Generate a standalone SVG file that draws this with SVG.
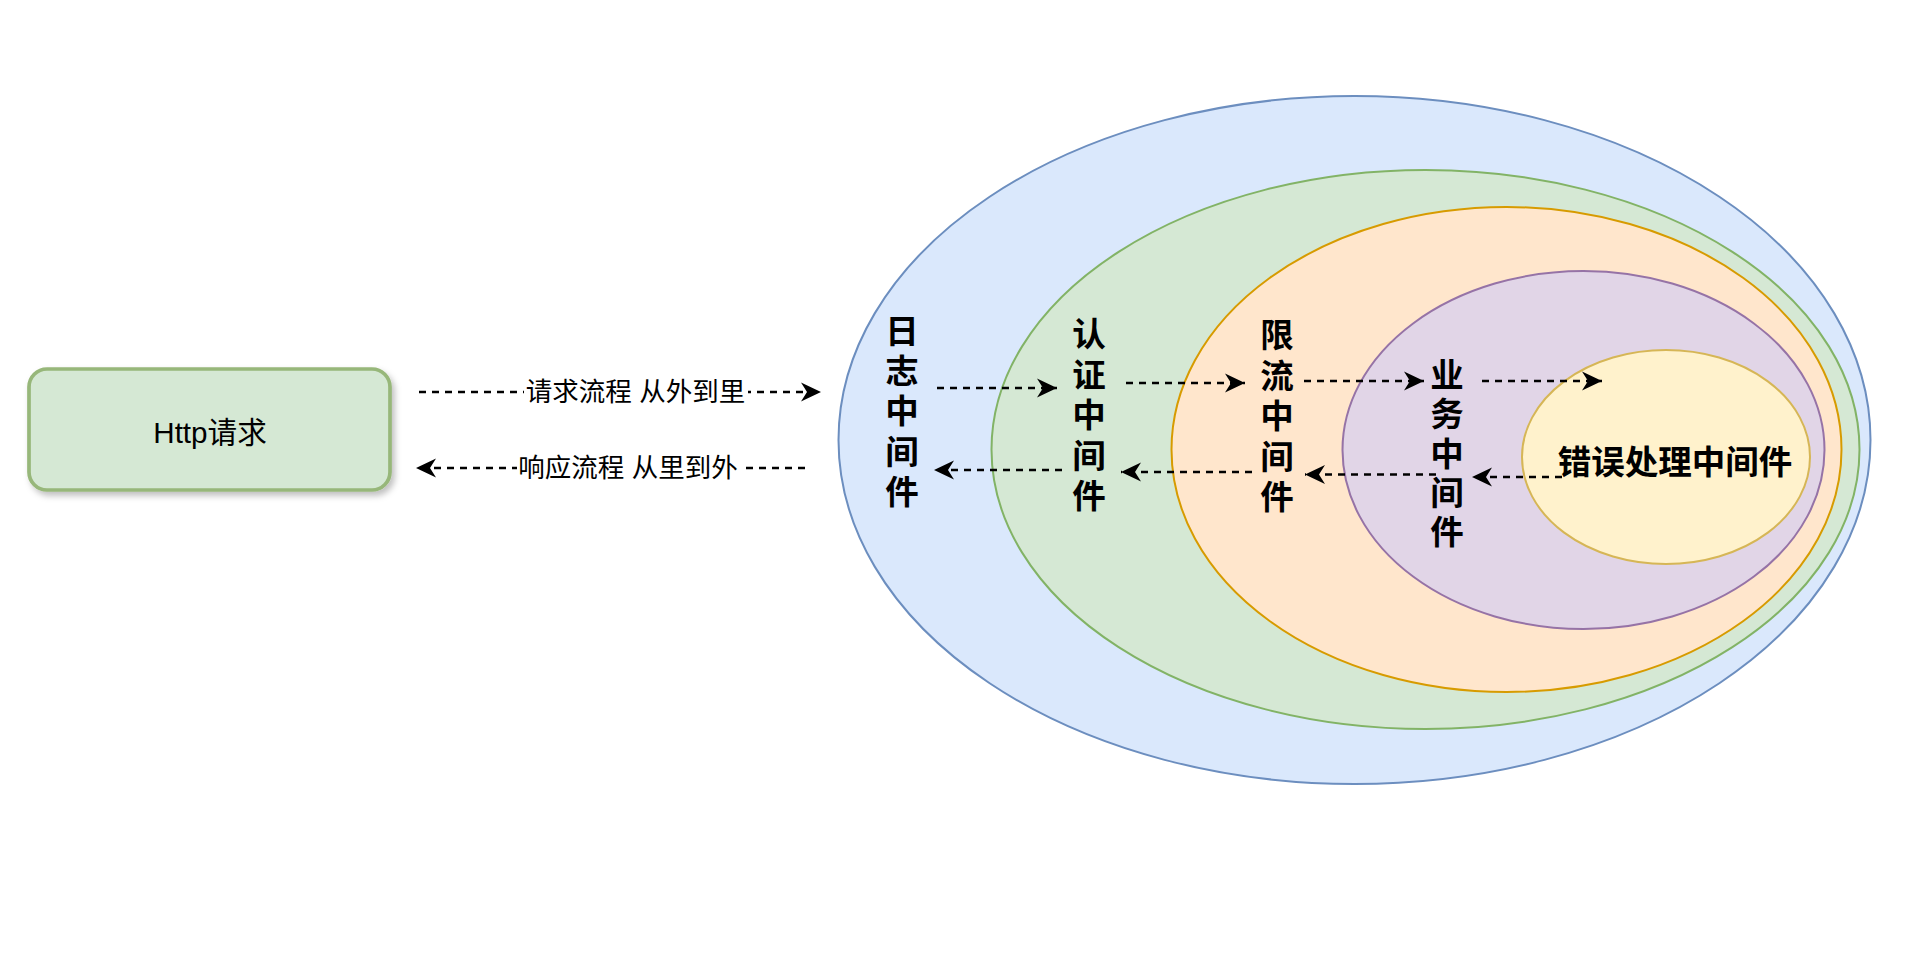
<svg xmlns="http://www.w3.org/2000/svg" width="1926" height="960" viewBox="0 0 1926 960">
  <style>
    .lbl { font-family: "Liberation Sans", "Noto Sans CJK SC", sans-serif; fill: #000; }
    .vt { font-family: "Liberation Sans", "Noto Sans CJK SC", sans-serif; font-weight: bold; font-size: 33.5px; fill: #000; text-anchor: middle; dominant-baseline: central; }
    .conn { fill: none; stroke: #000; stroke-width: 2.4; stroke-dasharray: 7 6; }
  </style>
  <defs>
    <marker id="arr" markerUnits="userSpaceOnUse" markerWidth="22" markerHeight="22" viewBox="0 0 22 22" refX="20" refY="11" orient="auto">
      <path d="M0,1.5 L20,11 L0,20.5 L6,11 Z" fill="#000"/>
    </marker>
    <filter id="shadow" x="-10%" y="-20%" width="130%" height="150%">
      <feDropShadow dx="3" dy="4" stdDeviation="3" flood-color="#000" flood-opacity="0.25"/>
    </filter>
  </defs>
  <rect width="1926" height="960" fill="#fff"/>

  <g id="http-request">
    <rect x="29" y="369" width="361" height="121" rx="18" ry="18" fill="#d5e8d4" stroke="#97b77a" stroke-width="3.7" filter="url(#shadow)"/>
    <text class="lbl" x="210" y="432" font-size="29.6" text-anchor="middle" dominant-baseline="central">Http请求</text>
  </g>

  <g id="log-middleware">
    <ellipse cx="1354.5" cy="440" rx="516" ry="344" fill="#dae8fc" stroke="#6c8ebf" stroke-width="2"/>
  </g>
  <g id="auth-middleware">
    <ellipse cx="1425.5" cy="449.5" rx="434" ry="279.5" fill="#d5e8d4" stroke="#82b366" stroke-width="2"/>
  </g>
  <g id="ratelimit-middleware">
    <ellipse cx="1506.5" cy="449.5" rx="335" ry="242.5" fill="#ffe6cc" stroke="#d79b00" stroke-width="2"/>
  </g>
  <g id="business-middleware">
    <ellipse cx="1583.5" cy="450" rx="241" ry="179" fill="#e1d5e7" stroke="#9673a6" stroke-width="2"/>
  </g>
  <g id="error-middleware">
    <ellipse cx="1666" cy="457" rx="144" ry="107" fill="#fff2cc" stroke="#d6b656" stroke-width="2"/>
  </g>

  <g id="connectors">
    <line class="conn" x1="419" y1="392" x2="821" y2="392" marker-end="url(#arr)"/>
    <line class="conn" x1="805" y1="468" x2="416" y2="468" marker-end="url(#arr)"/>
    <line class="conn" x1="937" y1="388" x2="1057" y2="388" marker-end="url(#arr)"/>
    <line class="conn" x1="1126" y1="383" x2="1245" y2="383" marker-end="url(#arr)"/>
    <line class="conn" x1="1304" y1="381" x2="1424" y2="381" marker-end="url(#arr)"/>
    <line class="conn" x1="1482" y1="381" x2="1602" y2="381" marker-end="url(#arr)"/>
    <line class="conn" x1="1562" y1="477" x2="1472" y2="477" marker-end="url(#arr)"/>
    <line class="conn" x1="1436" y1="474.5" x2="1305" y2="474.5" marker-end="url(#arr)"/>
    <line class="conn" x1="1252" y1="472" x2="1121" y2="472" marker-end="url(#arr)"/>
    <line class="conn" x1="1062" y1="470" x2="934" y2="470" marker-end="url(#arr)"/>
  </g>

  <g id="connector-labels">
    <rect x="524" y="376" width="224" height="32" fill="#fff"/>
    <text class="lbl" x="635.5" y="392" font-size="26.5" text-anchor="middle" dominant-baseline="central">请求流程 从外到里</text>
    <rect x="517" y="452" width="223" height="32" fill="#fff"/>
    <text class="lbl" x="628" y="468" font-size="26.5" text-anchor="middle" dominant-baseline="central">响应流程 从里到外</text>
  </g>

  <g id="labels">
    <text class="vt"><tspan x="902" y="331">日</tspan><tspan x="902" y="371.2">志</tspan><tspan x="902" y="411.4">中</tspan><tspan x="902" y="451.6">间</tspan><tspan x="902" y="491.8">件</tspan></text>
    <text class="vt"><tspan x="1089" y="334">认</tspan><tspan x="1089" y="374.6">证</tspan><tspan x="1089" y="415.2">中</tspan><tspan x="1089" y="455.8">间</tspan><tspan x="1089" y="496.4">件</tspan></text>
    <text class="vt"><tspan x="1277" y="335">限</tspan><tspan x="1277" y="375.5">流</tspan><tspan x="1277" y="416">中</tspan><tspan x="1277" y="456.5">间</tspan><tspan x="1277" y="497">件</tspan></text>
    <text class="vt"><tspan x="1447" y="375">业</tspan><tspan x="1447" y="414.3">务</tspan><tspan x="1447" y="453.6">中</tspan><tspan x="1447" y="492.9">间</tspan><tspan x="1447" y="532.2">件</tspan></text>
    <text class="vt" x="1675" y="462" font-size="33.3">错误处理中间件</text>
  </g>
</svg>
